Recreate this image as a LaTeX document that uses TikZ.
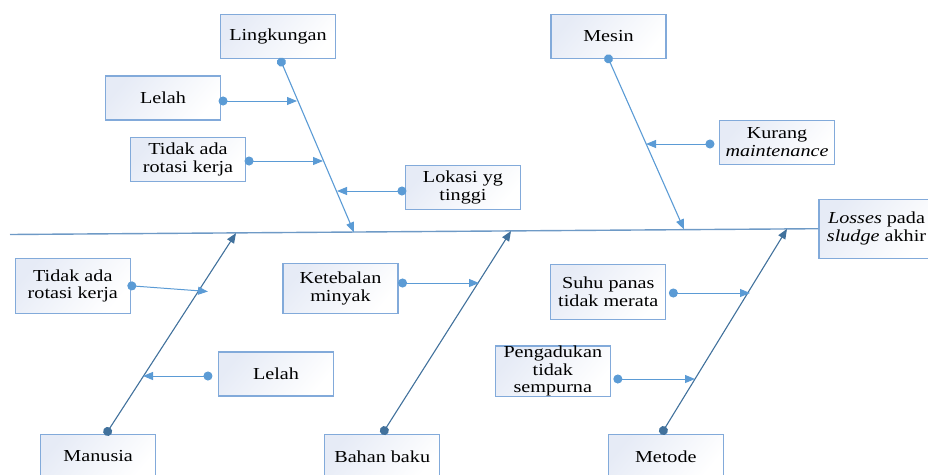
\documentclass[tikz,border=0pt]{standalone}
\usepackage{fontspec}
\setmainfont{Liberation Serif}[FakeStretch=1.2]
\usetikzlibrary{arrows.meta}
\definecolor{lineLight}{HTML}{5B9BD5}
\definecolor{lineDark}{HTML}{41719C}
\definecolor{boxEdge}{HTML}{82AADA}
\definecolor{boxShade}{HTML}{E6EBF6}
\definecolor{spineCol}{HTML}{6E9AC6}
\begin{document}
\begin{tikzpicture}[x=1pt,y=-1pt,
  box/.style={draw=boxEdge, line width=1.1pt, top color=boxShade, middle color=white,
    bottom color=white, shading angle=50, minimum width=115pt, minimum height=#1,
    inner sep=0pt, align=center, font=\fontsize{16.8}{17.6}\selectfont},
  box/.default=44pt,
  tips/.style={{Circle[length=9pt]}-{Triangle[length=10pt,width=8pt]}},
  sub/.style={draw=lineLight, line width=1pt, tips},
  mainUp/.style={draw=lineLight, line width=1.1pt, tips},
  mainLow/.style={draw=lineDark, line width=1.1pt, tips},
  spine/.style={draw=spineCol, line width=1.4pt}]
\useasboundingbox (0,0) rectangle (928,474);

% effect box (head of the fish)
\node[box=59pt] (losses) at (876.5,228.7) {\textit{Losses} pada\\\textit{sludge} akhir};

% category boxes
\node[box] (ling)    at (278,36.3)  {Lingkungan};
\node[box] (mesin)   at (608.5,36.3) {Mesin};
\node[box] (manusia) at (98.2,456.5) {Manusia};
\node[box] (bahan)   at (382.2,456.5) {Bahan baku};
\node[box] (metode)  at (665.8,456.5) {Metode};

% cause boxes
\node[box] (lelahA)  at (163,98)     {Lelah};
\node[box] (rotA)    at (188,159.3)  {Tidak ada\\rotasi kerja};
\node[box] (lokasi)  at (463,187.5)  {Lokasi yg\\tinggi};
\node[box] (kurang)  at (777,142.3)  {Kurang\\\textit{maintenance}};
\node[box=55.5pt] (rotB)  at (72.8,285.8) {Tidak ada\\rotasi kerja};
\node[box] (lelahB)  at (276,374)    {Lelah};
\node[box=50pt] (keteb) at (340.5,288.7) {Ketebalan\\minyak};
\node[box=55.3pt] (suhu) at (608.3,291.7) {Suhu panas\\tidak merata};
\node[box=50.3pt] (peng) at (552.8,371.2) {Pengadukan\\tidak\\sempurna};

% spine
\coordinate (tail) at (10,234.5);
\draw[spine] (tail) -- (losses.west);

% points where the bones meet the spine
\coordinate (tLing)  at (354,232.3);
\coordinate (tMesin) at (684,229.4);
\coordinate (tMan)   at (236,233.1);
\coordinate (tBahan) at (511,231.0);
\coordinate (tMet)   at (787,228.9);

% main bones
\draw[mainUp, shorten <=-1pt] ([xshift=2pt]ling.south) -- (tLing);
\draw[mainUp, shorten <=-4.5pt] (mesin.south) -- (tMesin);
\draw[mainLow, shorten <=-1.5pt] ([xshift=7.8pt]manusia.north) -- (tMan);
\draw[mainLow, shorten <=-0.5pt] (bahan.north) -- (tBahan);
\draw[mainLow, shorten <=-0.5pt] ([xshift=-4.5pt]metode.north) -- (tMet);

% points where the causes meet the bones
\coordinate (tLA) at (297,101);
\coordinate (tRA) at (323,161);
\coordinate (tLo) at (337,191);
\coordinate (tKu) at (646,144);
\coordinate (tRB) at (208,291.5);
\coordinate (tLB) at (143,376);
\coordinate (tKe) at (479,283);
\coordinate (tSu) at (750,293);
\coordinate (tPe) at (695,379);

% cause arrows
\draw[sub, shorten <=-2.5pt] (lelahA.east |- tLA) -- (tLA);
\draw[sub, shorten <=-1.5pt] (rotA.east |- tRA) -- (tRA);
\draw[sub, shorten <=-1.5pt] (lokasi.west |- tLo) -- (tLo);
\draw[sub, shorten <=4.5pt] (kurang.west |- tKu) -- (tKu);
\draw[sub, shorten <=-3.5pt] (rotB.east) -- (tRB);
\draw[sub, shorten <=5.5pt] (lelahB.west |- tLB) -- (tLB);
\draw[sub, shorten <=-0.5pt] (keteb.east |- tKe) -- (tKe);
\draw[sub, shorten <=2.5pt] (suhu.east |- tSu) -- (tSu);
\draw[sub, shorten <=2.5pt] (peng.east |- tPe) -- (tPe);
\end{tikzpicture}
\end{document}
